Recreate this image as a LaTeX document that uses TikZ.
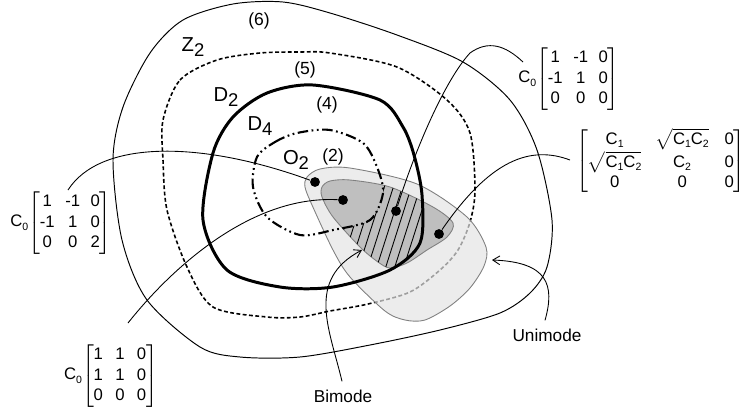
\documentclass[tikz,border=0pt]{standalone}
\usepackage{fontspec}
\setmainfont{Liberation Sans}
\usetikzlibrary{arrows.meta}

\definecolor{unifill}{gray}{0.925}
\definecolor{bifill}{gray}{0.75}
\definecolor{rimgray}{gray}{0.5}

\newcommand\lsub[1]{\raisebox{-0.45ex}{\fontsize{10.5}{11}\selectfont #1}}
\newcommand\msub[1]{\raisebox{-0.35ex}{\fontsize{6}{6}\selectfont #1}}
\newcommand\cmat[3]{C\msub{0}$\left[\begin{tabular}{@{}ccc@{}}#1\\#2\\#3\end{tabular}\right]$}
\newcommand\rootcc{$\sqrt{\mbox{C\msub{1}C\msub{2}}}$}

% region boundaries
\newcommand\outerpath{plot[smooth cycle] coordinates {(113,160) (123,107) (150,53) (183,20) (233,4) (283,2) (330,13) (397,35) (463,62) (510,100) (537,150) (552,220) (547,267) (530,293) (500,313) (440,330) (370,345) (300,357) (240,357) (200,347) (147,300) (122,240)}}
\newcommand\dotpath{plot[smooth cycle] coordinates {(163,120) (180,80) (217,60) (260,53) (300,52) (330,53) (397,67) (447,100) (470,133) (475,190) (470,222) (458,250) (440,270) (410,292) (368,304) (330,311) (300,317) (267,317) (213,307) (187,267) (167,210) (163,160)}}
\newcommand\thickpath{plot[smooth cycle] coordinates {(213,153) (233,117) (267,93) (313,85) (380,100) (403,127) (414,155) (422,195) (420,243) (390,270) (333,287) (280,287) (227,270) (203,220)}}
\newcommand\opath{plot[smooth cycle] coordinates {(257,157) (275,142) (297,133) (330,130) (363,143) (377,167) (383,193) (370,220) (333,230) (300,235) (267,217) (253,187)}}
\newcommand\unipath{plot[smooth cycle] coordinates {(307,177) (320,169) (350,168) (417,184) (467,217) (486,247) (484,266) (470,288) (450,306) (425,320) (405,320) (385,311) (350,277) (333,250) (312,205) (305,187)}}
\newcommand\bipath{plot[smooth cycle] coordinates {(322,187) (330,181) (350,180) (390,187) (433,207) (453,223) (447,237) (427,250) (407,263) (390,268) (378,262) (360,247) (333,217) (322,197)}}

\begin{document}
\begin{tikzpicture}[x=0.02cm, y=-0.02cm,
  thinline/.style={line width=0.55pt},
  dotline/.style={line width=0.9pt, dash pattern=on 2.2pt off 1.4pt},
  thickline/.style={line width=1.7pt},
  dashdotline/.style={line width=1.2pt, dash pattern=on 6pt off 2pt on 1pt off 2pt on 1pt off 2pt},
  rim/.style={draw=rimgray, line width=0.5pt},
  dot/.style={circle, fill=black, inner sep=0pt, minimum size=5.6pt},
  lab/.style={font=\fontsize{11.5}{13}\selectfont, inner sep=0pt},
  num/.style={font=\fontsize{10}{11}\selectfont, inner sep=0pt},
  mat/.style={font=\fontsize{9.5}{11.5}\selectfont, inner sep=0pt},
  modelab/.style={font=\fontsize{9.8}{11}\selectfont, inner sep=0pt},
  lead/.style={line width=0.5pt}]
\useasboundingbox (0,0) rectangle (747,410);

\draw[thinline] \outerpath;
\draw[dotline] \dotpath;
\fill[unifill] \unipath;
\begin{scope}
  \clip \unipath;
  \draw[dotline, gray!75] \dotpath;
\end{scope}
\draw[rim] \unipath;
\filldraw[fill=bifill, rim] \bipath;
% hatched part of the bimode region
\begin{scope}
  \clip \bipath;
  \clip \thickpath;
  \begin{scope}[even odd rule]
    \clip (0,0) rectangle (747,410) \opath;
    \foreach \k in {0,...,18} \draw[line width=0.5pt] (300+9*\k,310) -- ++(40,-125);
  \end{scope}
\end{scope}
\draw[thickline] \thickpath;
\draw[dashdotline] \opath;

% region labels
\node[num] (n6) at (259,21) {(6)};
\node[lab] (lZ) at (193,47) {Z\lsub{2}};
\node[num] (n5) at (305,70) {(5)};
\node[lab] (lD2) at (226,97) {D\lsub{2}};
\node[num] (n4) at (327,105) {(4)};
\node[lab] (lD4) at (260,126) {D\lsub{4}};
\node[lab] (lO) at (296,160) {O\lsub{2}};
\node[num] (n2) at (333,157) {(2)};

% points
\node[dot] (d1) at (315,182) {};
\node[dot] (d2) at (343,200) {};
\node[dot] (d3) at (396,211) {};
\node[dot] (d4) at (439,234) {};

% matrices
\begin{scope}[every node/.append style={mat}]
\node (matA) at (61,223) {\setlength{\tabcolsep}{3pt}\cmat{1 & -1 & 0}{-1 & 1 & 0}{0 & 0 & 2}};
\node (matB) at (111,376) {\setlength{\tabcolsep}{3.5pt}\cmat{1 & 1 & 0}{1 & 1 & 0}{0 & 0 & 0}};
\node (matC) at (569,79) {\setlength{\tabcolsep}{3pt}\cmat{1 & -1 & 0}{-1 & 1 & 0}{0 & 0 & 0}};
\node[anchor=east] (matD) at (746,161) {$\left[\begin{tabular}{@{}c@{\hspace{8pt}}c@{\hspace{9pt}}c@{}}C\msub{1} & \rootcc & 0\\ \rootcc & C\msub{2} & 0\\ 0 & 0 & 0\end{tabular}\right]$};
\end{scope}

\node[modelab] (bim) at (343,396) {Bimode};
\node[modelab] (uni) at (547,335) {Unimode};

% connectors
\coordinate (eA) at (68,190);
\coordinate (eB) at (128,323);
\coordinate (eC) at (523,62);
\coordinate (eD) at (570,160);
\coordinate (hB) at (362,250);
\coordinate (hU) at (492,260);
\draw[lead] (eA) .. controls (100,140) and (200,140) .. (d1);
\draw[lead] (eB) .. controls (170,270) and (250,195) .. (d2);
\draw[lead] (eC) .. controls (505,45) and (488,40) .. (470,53) .. controls (445,80) and (415,150) .. (d3);
\draw[lead] (eD) .. controls (530,145) and (490,160) .. (d4);
\draw[lead, -{Straight Barb[length=4pt, width=5pt]}] (bim.north) ++(-1,-8) .. controls (330,330) and (305,280) .. (hB);
\draw[lead, -{Straight Barb[length=4pt, width=5pt]}] (uni.north) ++(-2,-8) .. controls (555,285) and (548,262) .. (hU);
\end{tikzpicture}
\end{document}
